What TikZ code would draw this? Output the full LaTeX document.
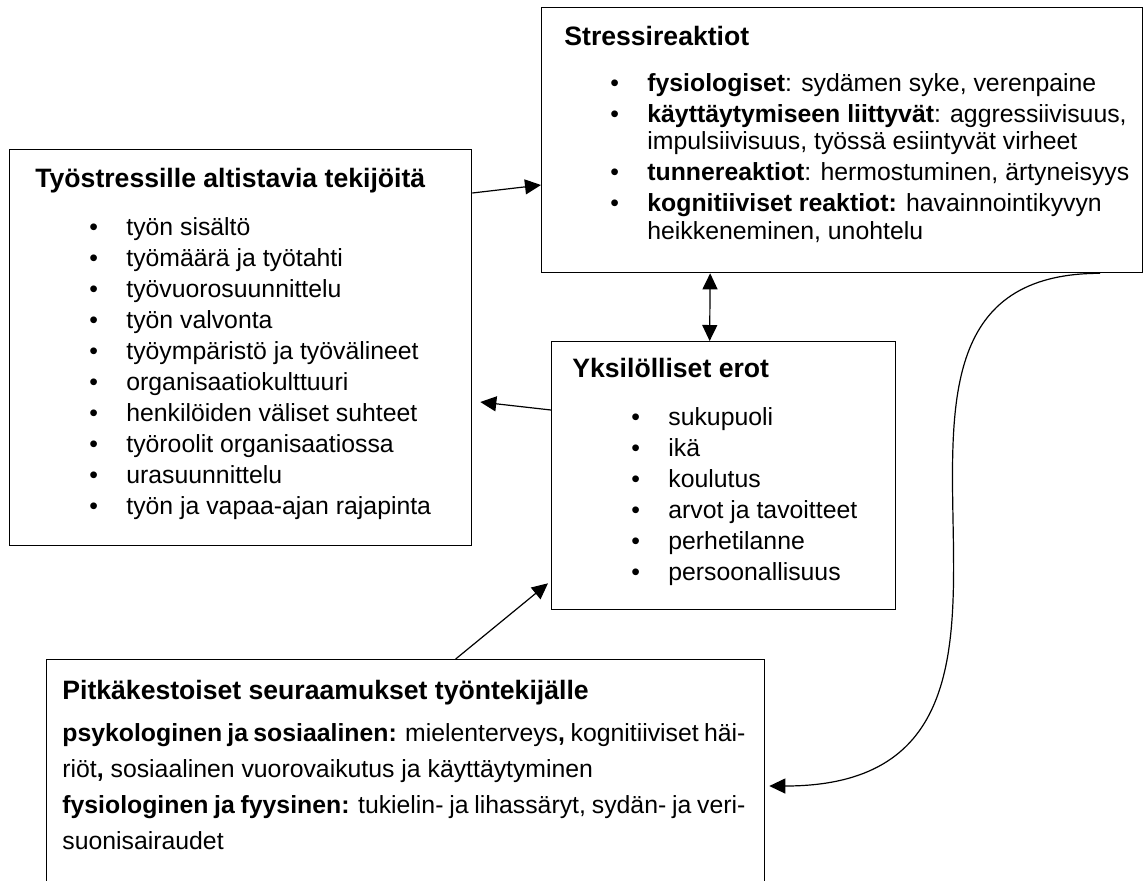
\documentclass[tikz,border=0pt]{standalone}
\usepackage{fontspec}
\setmainfont{Liberation Sans}
\usetikzlibrary{arrows.meta}

\tikzset{
	box/.style={draw, line width=0.65pt, anchor=north west, inner sep=0pt},
	boxtitle/.style={anchor=base west, inner sep=0pt, font=\fontsize{13.3}{16}\selectfont\bfseries},
	boxtext/.style={anchor=base west, inner sep=0pt, font=\fontsize{12.4}{15.5}\selectfont},
	arr/.style={line width=0.6pt, -{Triangle[length=8pt,width=7.5pt]}}
}
\newcommand{\bul}{\makebox[18.5pt][l]{\textbullet}}

\begin{document}
\begin{tikzpicture}[x=0.5pt, y=-0.5pt]
		\useasboundingbox (0,0) rectangle (1144,880);
		% boxes
		\node[box, minimum width=300.5pt, minimum height=132.5pt] (stress) at (541,7) {};
		\node[box, minimum width=231pt, minimum height=198pt] (tyo) at (9,149) {};
		\node[box, minimum width=172pt, minimum height=134pt] (yksi) at (551,341) {};
		\node[box, minimum width=359pt, minimum height=125pt] (pitka) at (46,659) {};
		% texts
		\node[boxtitle] (stresstitle) at (564,45) {Stressireaktiot};
		\node[boxtext] (stresslist) at (610,91) {\parbox[t]{280pt}{%
			\bul\textbf{fysiologiset}: sydämen syke, verenpaine\\
			\bul\textbf{käyttäytymiseen liittyvät}: aggressiivisuus,\\[-1.75pt]
			\hspace*{18.5pt}impulsiivisuus, työssä esiintyvät virheet\\
			\bul\textbf{tunnereaktiot}: hermostuminen, ärtyneisyys\\
			\bul\textbf{kognitiiviset reaktiot:} havainnointikyvyn\\[-1.75pt]
			\hspace*{18.5pt}heikkeneminen, unohtelu}};
		\node[boxtitle] (tyotitle) at (35,187) {Työstressille altistavia tekijöitä};
		\node[boxtext] (tyolist) at (89,235) {\parbox[t]{185pt}{%
			\bul työn sisältö\\
			\bul työmäärä ja työtahti\\
			\bul työvuorosuunnittelu\\
			\bul työn valvonta\\
			\bul työympäristö ja työvälineet\\
			\bul organisaatiokulttuuri\\
			\bul henkilöiden väliset suhteet\\
			\bul työroolit organisaatiossa\\
			\bul urasuunnittelu\\
			\bul työn ja vapaa-ajan rajapinta}};
		\node[boxtitle] (yksititle) at (572,377) {Yksilölliset erot};
		\node[boxtext] (yksilist) at (631,425) {\parbox[t]{140pt}{%
			\bul sukupuoli\\
			\bul ikä\\
			\bul koulutus\\
			\bul arvot ja tavoitteet\\
			\bul perhetilanne\\
			\bul persoonallisuus}};
		\node[boxtitle] (pitkatitle) at (62,699) {Pitkäkestoiset seuraamukset työntekijälle};
		\node[boxtext] (pitkatext) at (62,741) {\parbox[t]{345pt}{\baselineskip=18pt
			\makebox[341.5pt][s]{\textbf{psykologinen ja sosiaalinen:} mielenterveys\textbf{,} kognitiiviset häi-}\\
			riöt\textbf{,} sosiaalinen vuorovaikutus ja käyttäytyminen\\
			\makebox[341.5pt][s]{\textbf{fysiologinen ja fyysinen:} tukielin- ja lihassäryt, sydän- ja veri-}\\
			suonisairaudet}};
		% connectors
		\draw[arr] ([yshift=-22pt]tyo.north east) -- ([yshift=-89pt]stress.north west);
		\draw[arr, {Triangle[length=8pt,width=7.5pt]}-{Triangle[length=8pt,width=7.5pt]}] ([xshift=-66pt]stress.south) -- ([xshift=-7pt]yksi.north);
		\draw[arr] ([yshift=-34.5pt]yksi.north west) -- ([shift={(4pt,-126.5pt)}]tyo.north east);
		\draw[arr] ([xshift=25pt]pitka.north) -- ([shift={(-1.5pt,13.5pt)}]yksi.south west);
		\draw[arr] ([xshift=129pt]stress.south) .. controls +(-155pt,0) and +(177pt,0) .. ([shift={(2pt,-63.5pt)}]pitka.north east);
	\end{tikzpicture}
\end{document}
